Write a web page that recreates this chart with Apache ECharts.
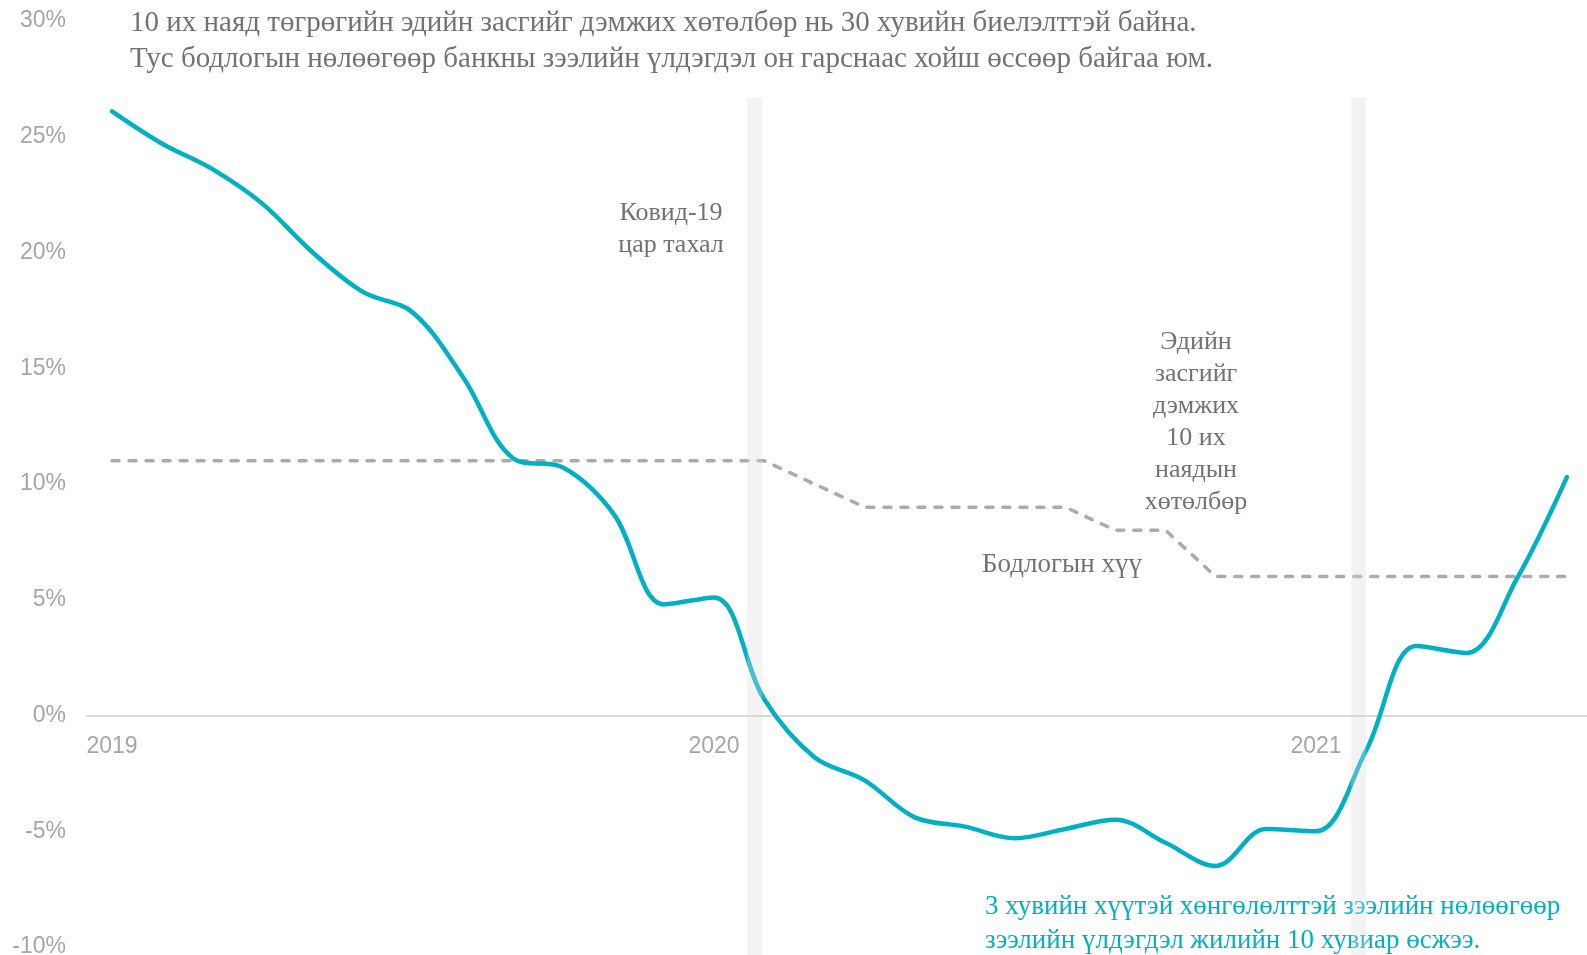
<!DOCTYPE html>
<html>
<head>
<meta charset="utf-8">
<title>Зээлийн өсөлт ба бодлогын хүү</title>
<script src="https://cdn.jsdelivr.net/npm/echarts@6/dist/echarts.min.js"></script>
<style>
  html, body { margin: 0; padding: 0; background: #fff; }
  #chart { width: 1587px; height: 955px; }
</style>
</head>
<body>
<div id="chart"></div>
<script>
// сар бүрийн өгөгдөл: 2019-01 ... 2021-06
const months = [
  '2019-01','2019-02','2019-03','2019-04','2019-05','2019-06','2019-07','2019-08','2019-09','2019-10','2019-11','2019-12',
  '2020-01','2020-02','2020-03','2020-04','2020-05','2020-06','2020-07','2020-08','2020-09','2020-10','2020-11','2020-12',
  '2021-01','2021-02','2021-03','2021-04','2021-05','2021-06'
]
// банкны зээлийн үлдэгдлийн жилийн өсөлт, %
const loanGrowth = [
  26.1, 24.7, 23.6, 22.1, 20.0, 18.3, 17.4, 14.6, 11.1, 10.7, 8.7, 4.8,
  5.1, 0.7, -1.8, -2.8, -4.4, -4.8, -5.3, -4.9, -4.5, -5.5, -6.5, -4.9,
  -5.0, -1.5, 3.0, 2.7, 5.9, 10.3
]
// бодлогын хүү, %
const policyRate = [
  11, 11, 11, 11, 11, 11, 11, 11, 11, 11, 11, 11,
  11, 11, 10, 9, 9, 9, 9, 9, 8, 8, 6, 6,
  6, 6, 6, 6, 6, 6
]
// саарал босоо зурвас (сарын индексээр)
const bands = [[12.66, 12.96], [24.70, 25.00]]
const bandTop = 26.7

const yTicks = { min: -10, max: 30, interval: 5 }

const TEXT_GRAY = '#767171'
const TEAL = '#00b1c4'
const SERIF = '"Liberation Serif", "Times New Roman", "DejaVu Serif", serif'
const SANS = '"Liberation Sans", Arial, sans-serif'

// зурвас хуудасны доод зах хүртэл үргэлжилнэ: доод 8px-ийг %-иар
const H = 955, TOP = 21, BOTTOM = 8
const bandAxisMin = yTicks.min - BOTTOM * (yTicks.max - yTicks.min) / (H - TOP - BOTTOM)

let chart = echarts.init(document.getElementById('chart'))

chart.setOption({
  animation: false,
  grid: [
    { left: 87, right: -5, top: TOP, bottom: BOTTOM, containLabel: false, outerBoundsMode: 'none' },
    { left: 87, right: -5, top: TOP, bottom: 0, containLabel: false, outerBoundsMode: 'none' }
  ],
  xAxis: [
    {
      type: 'category',
      gridIndex: 0,
      data: months,
      boundaryGap: true,
      axisLine: { onZero: true, lineStyle: { color: '#d9d9d9', width: 2 } },
      axisTick: { show: false },
      axisLabel: {
        show: true,
        interval: 11,
        formatter: (v) => String(v).slice(0, 4),
        color: '#a6a6a6',
        fontSize: 23,
        fontFamily: SANS,
        // v6 шошгыг доод захад үлдээдэг тул 0 шугамын доор татаж тавина
        margin: -212
      },
      splitLine: { show: false }
    },
    {
      // зурвасуудад зориулсан далд тэнхлэг
      type: 'value',
      gridIndex: 1,
      min: -0.5,
      max: months.length - 0.5,
      show: false
    }
  ],
  yAxis: [
    {
      type: 'value',
      gridIndex: 0,
      min: yTicks.min,
      max: yTicks.max,
      interval: yTicks.interval,
      axisLine: { show: false },
      axisTick: { show: false },
      splitLine: { show: false },
      axisLabel: {
        formatter: '{value}%',
        color: '#a6a6a6',
        fontSize: 23,
        fontFamily: SANS,
        margin: 21
      }
    },
    {
      type: 'value',
      gridIndex: 1,
      min: bandAxisMin,
      max: yTicks.max,
      show: false
    }
  ],
  series: [
    {
      name: 'Бодлогын хүү',
      type: 'line',
      data: policyRate,
      symbol: 'none',
      smooth: false,
      z: 2,
      lineStyle: { color: '#ababab', width: 3.5, type: [7, 10], cap: 'round', join: 'round' }
    },
    {
      name: 'Зээлийн өсөлт',
      type: 'line',
      data: loanGrowth,
      symbol: 'none',
      smooth: 0.35,
      z: 3,
      lineStyle: { color: TEAL, width: 4.5, cap: 'round' }
    },
    {
      name: 'bands',
      type: 'line',
      xAxisIndex: 1,
      yAxisIndex: 1,
      data: [],
      silent: true,
      markArea: {
        silent: true,
        z: 10,
        itemStyle: { color: 'rgba(219,219,219,0.32)' },
        data: bands.map(b => [
          { xAxis: b[0], yAxis: bandTop },
          { xAxis: b[1], yAxis: bandAxisMin }
        ])
      }
    }
  ],
  graphic: [
    {
      type: 'text', x: 130, y: 41,
      style: {
        text: '10 их наяд төгрөгийн эдийн засгийг дэмжих хөтөлбөр нь 30 хувийн биелэлттэй байна.\nТус бодлогын нөлөөгөөр банкны зээлийн үлдэгдэл он гарснаас хойш өссөөр байгаа юм.',
        font: '29px ' + SERIF, fill: TEXT_GRAY, lineHeight: 36,
        textAlign: 'left', textVerticalAlign: 'middle'
      }
    },
    {
      type: 'text', x: 671, y: 229,
      style: {
        text: 'Ковид-19\nцар тахал',
        font: '26px ' + SERIF, fill: TEXT_GRAY, lineHeight: 32,
        textAlign: 'center', textVerticalAlign: 'middle'
      }
    },
    {
      type: 'text', x: 1196, y: 422,
      style: {
        text: 'Эдийн\nзасгийг\nдэмжих\n10 их\nнаядын\nхөтөлбөр',
        font: '26px ' + SERIF, fill: TEXT_GRAY, lineHeight: 32,
        textAlign: 'center', textVerticalAlign: 'middle'
      }
    },
    {
      type: 'text', x: 1062, y: 565,
      style: {
        text: 'Бодлогын хүү',
        font: '27px ' + SERIF, fill: TEXT_GRAY,
        textAlign: 'center', textVerticalAlign: 'middle'
      }
    },
    {
      type: 'text', x: 985, y: 924,
      style: {
        text: '3 хувийн хүүтэй хөнгөлөлттэй зээлийн нөлөөгөөр\nзээлийн үлдэгдэл жилийн 10 хувиар өсжээ.',
        font: '27px ' + SERIF, fill: TEAL, lineHeight: 34,
        textAlign: 'left', textVerticalAlign: 'middle'
      }
    }
  ]
})
</script>
</body>
</html>
